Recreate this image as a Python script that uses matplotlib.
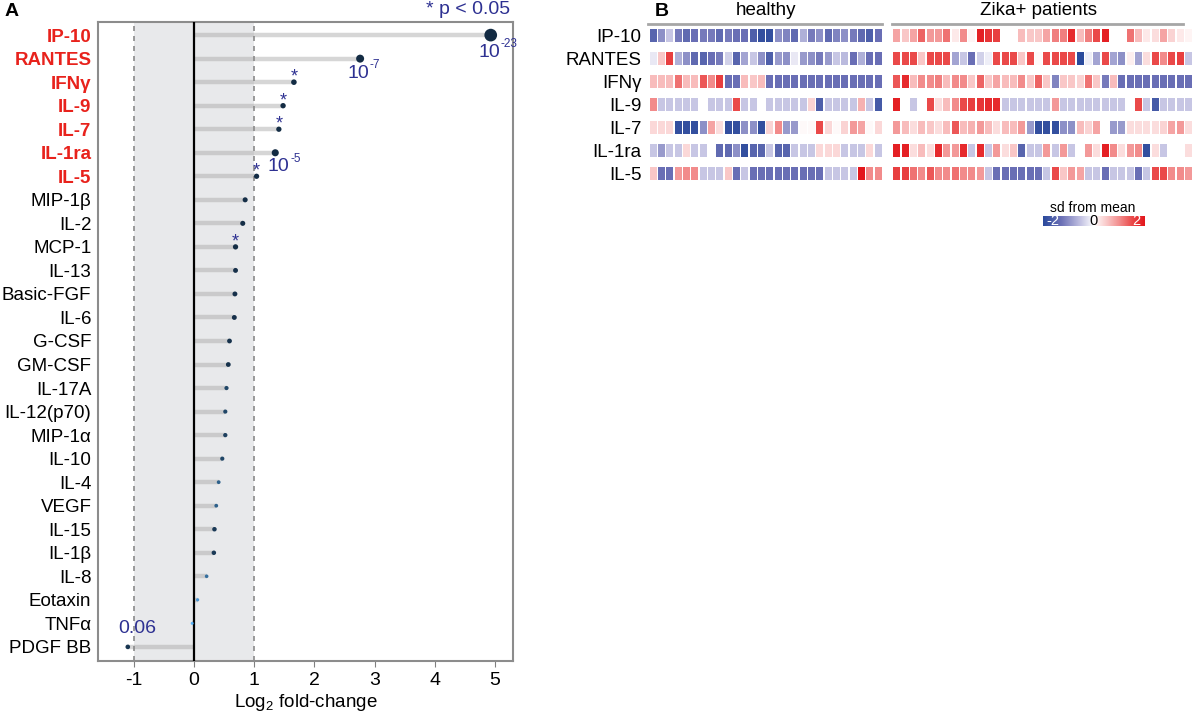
import numpy as np
import matplotlib
matplotlib.use("Agg")
import matplotlib.pyplot as plt
from matplotlib.colors import LinearSegmentedColormap, Normalize
from matplotlib.patches import Rectangle
from matplotlib.collections import PatchCollection

plt.rcParams['font.family'] = ['Liberation Sans', 'DejaVu Sans']
plt.rcParams['mathtext.fontset'] = 'custom'
plt.rcParams['mathtext.rm'] = 'Liberation Sans'
plt.rcParams['mathtext.it'] = 'Liberation Sans:italic'
plt.rcParams['axes.unicode_minus'] = False

# ---- panel A data ----
cytokines = ['IP-10', 'RANTES', 'IFNγ', 'IL-9', 'IL-7', 'IL-1ra', 'IL-5',
             'MIP-1β', 'IL-2', 'MCP-1', 'IL-13', 'Basic-FGF', 'IL-6', 'G-CSF',
             'GM-CSF', 'IL-17A', 'IL-12(p70)', 'MIP-1α', 'IL-10', 'IL-4',
             'VEGF', 'IL-15', 'IL-1β', 'IL-8', 'Eotaxin', 'TNFα', 'PDGF BB']
log2fc = [4.93, 2.76, 1.66, 1.48, 1.41, 1.35, 1.04, 0.85, 0.81, 0.69, 0.69,
          0.68, 0.67, 0.59, 0.57, 0.54, 0.52, 0.52, 0.47, 0.41, 0.37, 0.34,
          0.33, 0.21, 0.06, -0.03, -1.10]
pvals = [1e-23, 1e-7, 0.004, 0.008, 0.01, 1e-5, 0.012, 0.02, 0.02, 0.01,
         0.03, 0.03, 0.03, 0.04, 0.04, 0.15, 0.15, 0.12, 0.15, 0.3, 0.3,
         0.08, 0.08, 0.38, 0.6, 0.75, 0.06]
n_highlight = 7
starred = ['IFNγ', 'IL-9', 'IL-7', 'IL-5', 'MCP-1']
p_exponents = {'IP-10': '-23', 'RANTES': '-7', 'IL-1ra': '-5'}
pdgf_p = '0.06'

# ---- panel B data (sd from mean), one list per cytokine and group ----
nan = np.nan
heat_rows = ['IP-10', 'RANTES', 'IFNγ', 'IL-9', 'IL-7', 'IL-1ra', 'IL-5']

h_ip10 = [-1.5, -1.0, -0.5, -1.2, -1.4, -1.3, -1.2, -1.2, -1.4, -1.2, -1.3, -1.3, -1.6, -1.9,
          -1.9, -1.0, -1.1, -1.4, -0.7, -1.2, -1.0, -1.4, -1.1, -1.0, -1.2, -1.4, -1.6, -1.3]
h_rantes = [-0.2, 0.5, 1.6, -0.7, -1.0, -1.4, -1.5, -1.3, -1.2, -0.4, -1.5, -0.8, -0.5, -1.0,
            -1.6, -0.9, -1.0, -0.2, -0.9, -1.0, -1.2, -0.9, -0.5, -0.6, -1.3, -0.7, -1.3, -1.3]
h_ifng = [0.6, 0.6, 0.6, 1.2, 0.6, 0.6, 1.4, 1.0, 1.6, -1.3, -1.3, 0.6, 0.5, 0.6,
          -1.3, -1.3, -1.3, -1.3, -1.3, -1.3, -1.3, -1.3, -1.3, -1.3, -1.3, -1.3, -1.3, -1.3]
h_il9 = [1.0, -0.5, -0.5, -0.5, -0.5, -0.5, nan, -0.5, -0.5, -0.5, 1.5, -0.5, -0.5, nan,
         -0.5, -0.5, -0.5, -0.5, -0.5, 0.4, -1.6, -0.5, -0.5, -0.5, -0.5, 0.7, -0.5, -1.7]
h_il7 = [0.35, 0.35, 0.35, -1.9, -1.9, -1.9, -1.0, 0.8, 0.3, -1.9, -1.9, -1.0, -1.0, -1.9,
         0.4, 1.0, -0.9, -0.9, 0.05, 0.05, 1.5, 0.35, 0.05, 0.4, 0.9, 0.8, 0.05, 0.35]
h_il1ra = [-0.5, -0.9, -0.5, -0.5, 0.35, -0.5, -0.5, nan, -1.4, -1.4, -1.0, -1.9, -1.5, -1.5,
           -0.5, -1.5, -1.5, -0.5, -0.5, -0.5, 0.35, 0.35, 0.35, -0.5, -0.5, -0.5, 0.35, -0.5]
h_il5 = [0.5, -1.3, -1.3, 0.9, 1.0, 1.0, -0.5, -0.5, -0.5, 0.5, -1.3, -0.5, -1.3, -1.3,
         -1.3, -1.3, -1.3, -1.3, -1.3, -1.3, -1.3, -0.5, -0.5, -0.5, -0.5, 2.0, 1.0, 1.0]

z_ip10 = [0.8, 0.5, 0.8, 1.3, 0.9, 0.9, 1.2, 0.2, 1.0, 0.1, 1.9, 1.7, 1.6, nan, nan, 0.6, 0.5, 0.5,
          0.8, 1.1, 1.1, 1.8, 0.6, 1.1, 1.5, 1.9, nan, nan, 1.2, 0.6, 0.2, 0.3, 0.8, 0.4, 0.2, 0.1]
z_rantes = [1.5, 1.5, 1.5, 0.5, 1.5, 1.5, 1.5, -0.8, -0.5, -1.3, -0.4, -0.15, 1.5, 1.5, 1.5, 0.5, 1.5, 0.05,
            1.5, 1.5, 1.5, 1.5, -2.0, -0.15, -0.8, 1.5, -0.8, -1.0, 0.15, -0.8, 0.3, 1.5, 1.0, 1.5, 1.6, -0.5]
z_ifng = [1.4, 1.8, 0.6, 1.0, 1.0, 1.1, 0.6, 1.0, 1.0, 0.5, 1.3, 0.5, 0.8, 0.6, 0.6, 1.0, 0.5, 1.3,
          0.5, -1.1, 0.5, 0.5, 0.4, 1.2, 0.5, -1.2, 0.6, -1.3, -1.3, -1.3, -1.3, -1.3, -1.3, -1.3, -1.3, -1.3]
z_il9 = [1.9, nan, -0.5, nan, 1.5, 0.3, 0.6, 1.0, 1.5, 1.6, 1.7, 1.8, 1.8, -0.5, -0.5, -0.5, -0.5, -0.5,
         -0.5, 0.9, -0.5, -0.5, -0.5, -0.5, -0.5, -0.5, -0.5, -0.5, nan, 1.5, -0.5, -1.7, -0.5, -0.5, -0.5, -0.5]
z_il7 = [0.9, 0.6, 0.3, 0.6, 0.5, 0.3, 0.6, 1.4, 0.6, 0.7, 0.9, 0.6, 0.3, 0.6, 0.6, 0.9, -0.9, -1.9,
         -1.9, -1.9, -1.0, -1.0, 0.6, 0.4, 0.8, nan, -0.9, -0.9, 0.3, 0.3, 0.3, 0.3, 0.4, 0.8, 0.9, 0.3]
z_il1ra = [1.9, 1.9, 0.3, 0.6, 0.3, 1.8, 0.9, 0.9, 1.8, -0.5, 1.8, -0.5, 0.9, 0.3, 0.5, -1.5, -0.5, -0.5,
           0.9, -0.5, 0.9, -0.5, nan, 0.9, 0.3, 1.9, 1.0, 0.3, 0.9, 1.0, -1.9, 0.3, -0.5, nan, nan, 0.3]
z_il5 = [1.6, 1.6, 1.2, 1.0, 1.4, 1.0, 1.0, 1.2, 1.0, 1.0, 0.9, -0.5, -1.3, -1.3, -1.3, -1.3, -1.3, -1.3,
         -0.5, 1.5, 0.5, 0.9, 0.8, -0.5, -0.5, -1.3, -0.5, -0.5, -0.5, -1.3, -0.5, 1.5, 1.5, 1.0, 1.0, 0.9]

healthy = [h_ip10, h_rantes, h_ifng, h_il9, h_il7, h_il1ra, h_il5]
zika = [z_ip10, z_rantes, z_ifng, z_il9, z_il7, z_il1ra, z_il5]

ANNOT = '#2e3192'
W, H = 1192, 712


def power_label(ax, x, y, exponent):
    """Writes 10 with a small raised exponent; (x, y) is where the base ends."""
    ax.annotate('10', xy=(x, y), ha='right', va='center', color=ANNOT, fontsize=14)
    ax.annotate(exponent, xy=(x, y), xytext=(0.3, 1.5), textcoords='offset points',
                ha='left', va='bottom', color=ANNOT, fontsize=8.5)


def lollipop(ax):
    """Draws the log2 fold-change lollipop chart (panel A)."""
    y = np.arange(len(cytokines))
    p = np.array(pvals)

    # shaded |log2FC| < 1 band and reference lines
    ax.axvspan(-1, 1, color='#e8e9eb', zorder=0, lw=0)
    ax.hlines(y, 0, log2fc, color='#a6a6a6', alpha=0.45, lw=3.2, zorder=1)
    for xv in (-1, 1):
        ax.axvline(xv, color='#8a8a8a', ls=(0, (3, 3)), lw=1.2, zorder=2)
    ax.axvline(0, color='black', lw=1.6, zorder=3)

    # dot size and colour both follow significance
    nlp = -np.log10(p)
    diam = 2.2 + 10.5 * np.sqrt(nlp / nlp.max())
    dot_cmap = LinearSegmentedColormap.from_list('gg', ['#132B43', '#56B1F7'])
    ax.scatter(log2fc, y, s=(diam * 0.72) ** 2, c=p, cmap=dot_cmap,
               vmin=0, vmax=p.max(), edgecolors='none', zorder=4)

    # significance annotations
    idx = {name: i for i, name in enumerate(cytokines)}
    for name in starred:
        i = idx[name]
        ax.text(log2fc[i], i - 0.22, '*', color=ANNOT, fontsize=13,
                ha='center', va='center', zorder=5)
    power_label(ax, 5.08, 0.72, p_exponents['IP-10'])
    power_label(ax, 2.91, 1.62, p_exponents['RANTES'])
    power_label(ax, 1.59, 5.6, p_exponents['IL-1ra'])
    ax.text(-0.94, 25.2, pdgf_p, color=ANNOT, fontsize=14,
            ha='center', va='center')
    ax.text(5.25, -1.1, '* p < 0.05', color=ANNOT, fontsize=14,
            ha='right', va='center', clip_on=False)

    # axes
    ax.set_xlim(-1.6, 5.3)
    ax.set_ylim(len(cytokines) - 0.4, -0.57)
    ax.set_xticks(range(-1, 6))
    ax.set_yticks(y, cytokines)
    for i, lab in enumerate(ax.get_yticklabels()):
        if i < n_highlight:
            lab.set_color('#e8221c')
            lab.set_fontweight('bold')
            lab.set_fontsize(14)
    ax.tick_params(axis='y', length=0, pad=4.5, labelsize=13.5)
    ax.tick_params(axis='x', length=4, color='#808080', labelsize=14, pad=4)
    for sp in ax.spines.values():
        sp.set_color('#8c8c8c')
        sp.set_linewidth(1.5)
    ax.set_xlabel('Log$_2$ fold-change', fontsize=13.5, labelpad=2)


def heatmap(ax, cmap, norm):
    """Draws the per-sample heatmap of the seven significant cytokines (panel B)."""
    cell_w, cell_h = 0.84, 0.577
    z_off = 29.24
    rects, vals = [], []
    for offset, group in ((0, healthy), (z_off, zika)):
        for i, row in enumerate(group):
            for k, v in enumerate(row):
                if np.isnan(v):
                    continue
                rects.append(Rectangle((offset + k, i - cell_h / 2), cell_w, cell_h))
                vals.append(v)
    pc = PatchCollection(rects, cmap=cmap, norm=norm, edgecolor='none')
    pc.set_array(np.array(vals))
    ax.add_collection(pc)

    n_h, n_z = len(healthy[0]), len(zika[0])
    ax.plot([-0.2, n_h - 0.1], [-0.49, -0.49], color='#a6a6a6', lw=2, clip_on=False)
    ax.plot([z_off - 0.1, z_off + n_z - 1.2], [-0.49, -0.49], color='#a6a6a6',
            lw=2, clip_on=False)
    ax.text((n_h - 0.1) / 2, -1.1, 'healthy', fontsize=13.5, ha='center',
            va='center', clip_on=False)
    ax.text(z_off + (n_z - 1.2) / 2, -1.1, 'Zika+ patients', fontsize=13.5,
            ha='center', va='center', clip_on=False)

    ax.set_xlim(0, 65.1)
    ax.set_ylim(7.137, -0.672)
    ax.set_yticks(range(len(heat_rows)), heat_rows)
    ax.set_xticks([])
    ax.tick_params(axis='y', length=0, pad=6, labelsize=13.5)
    for sp in ax.spines.values():
        sp.set_visible(False)


fig = plt.figure(figsize=(W / 100, H / 100), dpi=100)

ax_a = fig.add_axes([97.7 / W, 1 - 661 / H, (513 - 97.7) / W, (661 - 21.7) / H])
lollipop(ax_a)

sd_cmap = LinearSegmentedColormap.from_list('sd', [
    (0.0, '#2a4a9c'), (0.175, '#6a6fb5'), (0.375, '#c6c5e4'), (0.5, '#ffffff'),
    (0.625, '#f9c8c8'), (0.75, '#f28d8d'), (0.875, '#ea4a4a'), (1.0, '#e3161b')])
sd_norm = Normalize(-2, 2)

ax_b = fig.add_axes([649.7 / W, 1 - 200 / H, (W - 649.7) / W, 180 / H])
heatmap(ax_b, sd_cmap, sd_norm)

# colour key
cax = fig.add_axes([1042.7 / W, 1 - 226 / H, (1144.3 - 1042.7) / W, 10 / H])
cax.imshow(np.linspace(-2, 2, 256)[None, :], cmap=sd_cmap, norm=sd_norm,
           aspect='auto', extent=[-2, 2, 0, 1])
cax.axis('off')
cax.text(-1.85, 0.45, '-2', color='white', fontsize=10.5, ha='left', va='center')
cax.text(0, 0.45, '0', color='black', fontsize=10.5, ha='center', va='center')
cax.text(1.85, 0.45, '2', color='white', fontsize=10.5, ha='right', va='center')
fig.text(1093 / W, 1 - 207.7 / H, 'sd from mean', fontsize=10, ha='center', va='center')

# panel letters
fig.text(5 / W, 1 - 11 / H, 'A', fontsize=14, fontweight='bold', va='center')
fig.text(655 / W, 1 - 11 / H, 'B', fontsize=14, fontweight='bold', va='center')

plt.savefig('out.png', dpi=100)
